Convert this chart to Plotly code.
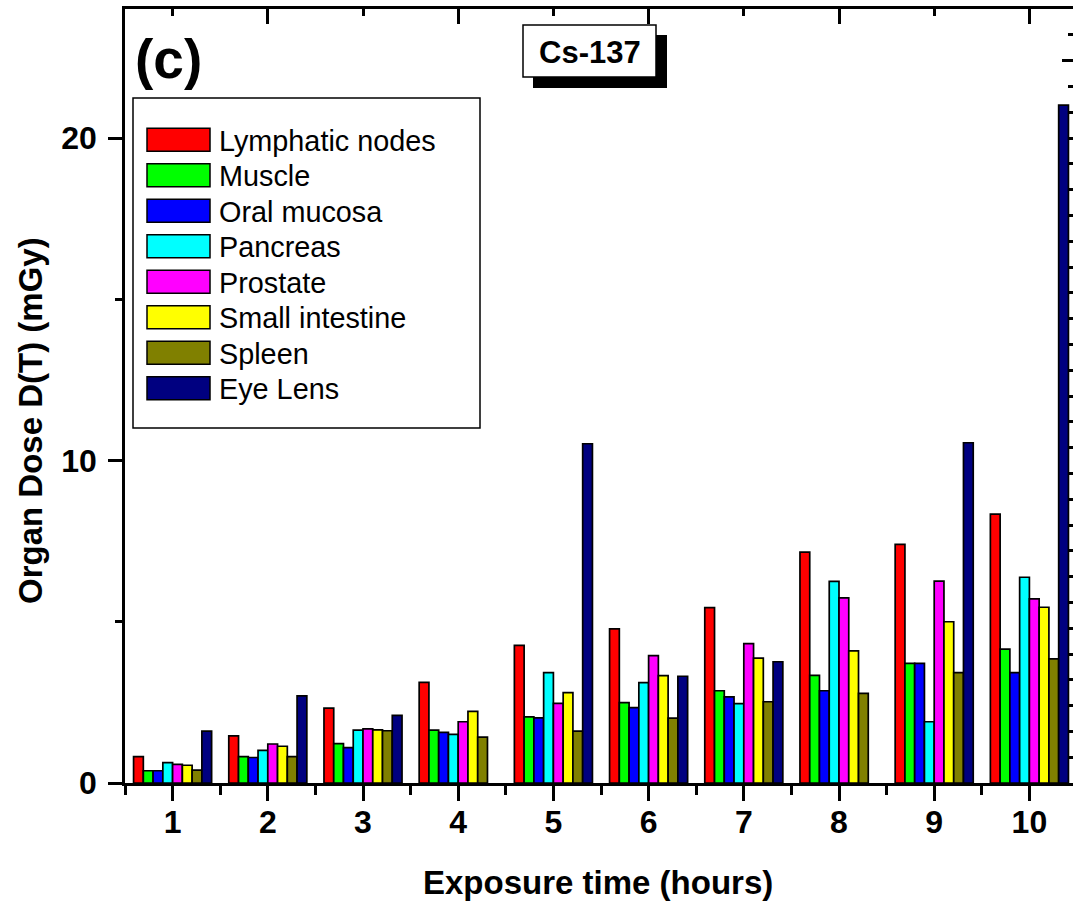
import plotly.graph_objects as go

hours = [1, 2, 3, 4, 5, 6, 7, 8, 9, 10]
organs = ["Lymphatic nodes", "Muscle", "Oral mucosa", "Pancreas", "Prostate",
          "Small intestine", "Spleen", "Eye Lens"]
colors = ["#FF0000", "#00FF00", "#0000FF", "#00FFFF", "#FF00FF", "#FFFF00",
          "#808000", "#000080"]

lymphatic = [0.82, 1.46, 2.32, 3.12, 4.27, 4.78, 5.44, 7.16, 7.40, 8.34]
muscle = [0.38, 0.82, 1.22, 1.64, 2.05, 2.49, 2.86, 3.34, 3.71, 4.15]
oral_mucosa = [0.38, 0.79, 1.10, 1.57, 2.02, 2.34, 2.67, 2.86, 3.71, 3.42]
pancreas = [0.63, 1.01, 1.64, 1.51, 3.42, 3.11, 2.46, 6.25, 1.90, 6.38]
prostate = [0.58, 1.21, 1.68, 1.90, 2.47, 3.95, 4.32, 5.74, 6.26, 5.71]
small_intestine = [0.55, 1.14, 1.65, 2.22, 2.80, 3.33, 3.87, 4.10, 5.00, 5.45]
spleen = [0.40, 0.82, 1.62, 1.42, 1.61, 2.01, 2.52, 2.78, 3.42, 3.85]
eye_lens = [1.61, 2.70, 2.10, None, 10.52, 3.31, 3.76, None, 10.55, 21.02]

series = [lymphatic, muscle, oral_mucosa, pancreas, prostate, small_intestine,
          spleen, eye_lens]

y_ticks = [0, 10, 20]
x_title = "Exposure time (hours)"
y_title = "Organ Dose D(T) (mGy)"
panel_label = "(c)"
source_label = "Cs-137"

FONT = "Liberation Sans, Arial, sans-serif"
W, H = 1073, 904
L, R, T, B = 125, 0, 9, 121
PW = W - L - R
PH = H - T - B


def px(x):
    return (x - L) / PW


def py(y):
    return (H - B - y) / PH


fig = go.Figure()
for name, col, vals in zip(organs, colors, series):
    fig.add_trace(go.Bar(
        x=hours, y=vals, name=name, showlegend=False,
        marker=dict(color=col, line=dict(color="black", width=1.7)),
    ))

# invisible trace to activate the mirrored top/right axes
fig.add_trace(go.Scatter(x=[1], y=[0], xaxis="x2", yaxis="y2", mode="markers",
                         marker=dict(opacity=0), showlegend=False, hoverinfo="skip"))

xr = [0.5, 0.5 + PW / 95.2]
yr = [0, PH / 32.25]

shapes = []
annotations = []

# legend box
shapes.append(dict(type="rect", xref="paper", yref="paper",
                   x0=px(133), x1=px(480), y0=py(98), y1=py(428),
                   line=dict(color="black", width=1.5), fillcolor="white"))
for i, (name, col) in enumerate(zip(organs, colors)):
    yc = 139.7 + 35.5 * i
    shapes.append(dict(type="rect", xref="paper", yref="paper",
                       x0=px(147), x1=px(210), y0=py(yc - 11.5), y1=py(yc + 11.5),
                       line=dict(color="black", width=1.5), fillcolor=col))
    annotations.append(dict(xref="paper", yref="paper", x=px(217), y=py(yc + 1),
                            xanchor="left", yanchor="middle", showarrow=False,
                            text=name, font=dict(family=FONT, size=28.8, color="black")))

# Cs-137 box with shadow
shapes.append(dict(type="rect", xref="paper", yref="paper",
                   x0=px(533), x1=px(667), y0=py(35), y1=py(88),
                   line=dict(color="black", width=0), fillcolor="black"))
shapes.append(dict(type="rect", xref="paper", yref="paper",
                   x0=px(523), x1=px(656), y0=py(25), y1=py(77),
                   line=dict(color="black", width=1.5), fillcolor="white"))
annotations.append(dict(xref="paper", yref="paper", x=px(589.5), y=py(52),
                        xanchor="center", yanchor="middle", showarrow=False,
                        text="<b>" + source_label + "</b>",
                        font=dict(family=FONT, size=31, color="black")))

annotations.append(dict(xref="paper", yref="paper", x=px(133), y=py(59),
                        xanchor="left", yanchor="middle", showarrow=False,
                        text="<b>" + panel_label + "</b>",
                        font=dict(family=FONT, size=55, color="black")))

annotations.append(dict(xref="paper", yref="paper", x=px(598), y=py(882),
                        xanchor="center", yanchor="middle", showarrow=False,
                        text="<b>" + x_title + "</b>",
                        font=dict(family=FONT, size=33, color="black")))
annotations.append(dict(xref="paper", yref="paper", x=px(30), y=py(421),
                        xanchor="center", yanchor="middle", showarrow=False,
                        textangle=-90,
                        text="<b>" + y_title + "</b>",
                        font=dict(family=FONT, size=33, color="black")))

tickfont = dict(family=FONT, size=32, color="black", weight="bold")

fig.update_layout(
    width=W, height=H,
    margin=dict(l=L, r=R, t=T, b=B, pad=0),
    paper_bgcolor="white", plot_bgcolor="white",
    barmode="group", bargap=0.18, bargroupgap=0,
    showlegend=False,
    xaxis=dict(range=xr, tickmode="array", tickvals=hours,
               ticktext=[str(h) for h in hours],
               ticks="outside", ticklen=15, tickwidth=2.5, tickcolor="black",
               minor=dict(tickmode="array", tickvals=[h - 0.5 for h in hours] + [10.5],
                          ticks="outside", ticklen=9, tickwidth=2.5, tickcolor="black"),
               showline=True, linecolor="black", linewidth=2.5,
               showgrid=False, zeroline=False, tickfont=tickfont,
               ticklabelstandoff=-6),
    yaxis=dict(range=yr, tickmode="array", tickvals=y_ticks,
               ticks="outside", ticklen=14, tickwidth=2.5, tickcolor="black",
               minor=dict(tickmode="array", tickvals=[5, 15],
                          ticks="outside", ticklen=7, tickwidth=2.5, tickcolor="black"),
               showline=True, linecolor="black", linewidth=2.5,
               showgrid=False, zeroline=False, tickfont=tickfont,
               ticklabelstandoff=5),
    xaxis2=dict(overlaying="x", side="top", range=xr, tickmode="array",
                tickvals=[2, 4, 6, 8, 10], ticks="inside", ticklen=15, tickwidth=2.5,
                tickcolor="black", showticklabels=False,
                minor=dict(tickmode="array", tickvals=[1, 3, 5, 7, 9],
                           ticks="inside", ticklen=7, tickwidth=2.5, tickcolor="black"),
                showline=True, linecolor="black", linewidth=2.5,
                showgrid=False, zeroline=False),
    yaxis2=dict(overlaying="y", side="right", range=yr, tickmode="array",
                tickvals=[22.4], ticks="inside", ticklen=11, tickwidth=2.5,
                tickcolor="black", showticklabels=False,
                minor=dict(tickmode="array",
                           tickvals=[round(0.8 * k, 2) for k in range(1, 30)],
                           ticks="inside", ticklen=5, tickwidth=2.5, tickcolor="black"),
                showline=False, showgrid=False, zeroline=False),
    shapes=shapes,
    annotations=annotations,
)

fig.write_html("out.html", config={"displayModeBar": False},
               post_script="document.body.style.margin='0';document.body.style.overflow='hidden';")
